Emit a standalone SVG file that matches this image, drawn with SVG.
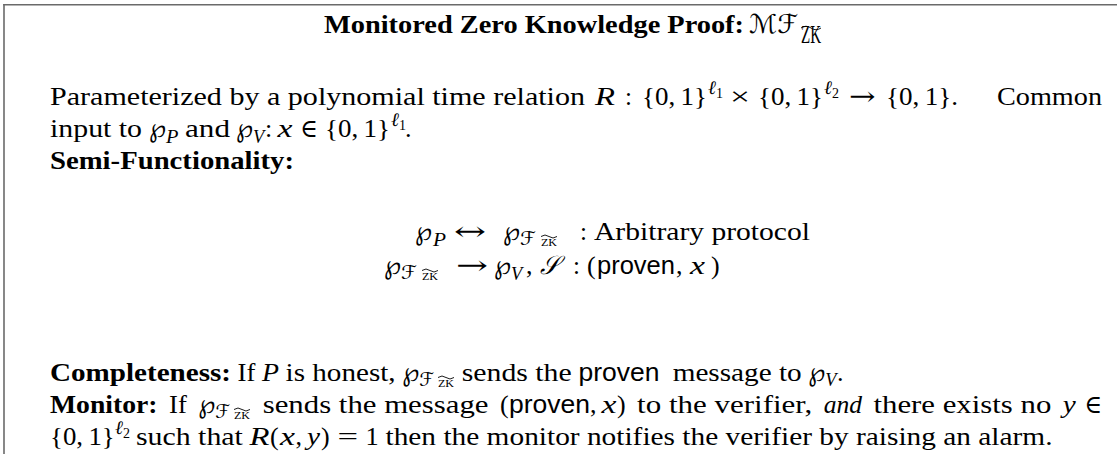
<svg xmlns="http://www.w3.org/2000/svg" width="1117" height="454" viewBox="0 0 1117 454">
<style>
text{font-family:"Liberation Serif","DejaVu Serif",serif;font-size:26px;fill:#000}
.b{font-weight:bold}
.it{font-style:italic}
.sf{font-family:"Liberation Sans","DejaVu Sans",sans-serif}
.sc{font-family:"DejaVu Serif","DejaVu Sans",serif;font-style:italic}
.dj{font-family:"DejaVu Serif","DejaVu Sans",serif}
.s19{font-size:19px}
.s14{font-size:14px}
.s11{font-size:11px}
.tl{fill:none;stroke:#000;stroke-width:0.9}
</style>
<g id="frame" stroke="#6a6a6a" stroke-width="1.6">
<line x1="3.2" y1="4.8" x2="1117" y2="4.8"/>
<line x1="4" y1="4" x2="4" y2="454"/>
</g>
<g id="title">
<text x="324" y="33" class="b" textLength="420" lengthAdjust="spacingAndGlyphs">Monitored Zero Knowledge Proof:</text>
<text x="749" y="33" class="sc" textLength="49" lengthAdjust="spacingAndGlyphs">ℳℱ</text>
<text x="801" y="43" font-size="15px" textLength="20" lengthAdjust="spacingAndGlyphs">ZK</text>
<path class="tl" d="M801 28 q5 -3.5 10 0 t10 0"/>
</g>
<g id="line1">
<text x="50" y="105" textLength="535" lengthAdjust="spacingAndGlyphs">Parameterized by a polynomial time relation</text>
<text x="595" y="105" class="it" textLength="20" lengthAdjust="spacingAndGlyphs">R</text>
<text x="625" y="105" textLength="7" lengthAdjust="spacingAndGlyphs">:</text>
<text x="642" y="105" textLength="65" lengthAdjust="spacingAndGlyphs">{0,&#8201;1}</text>
<text x="708" y="94" class="it s19">ℓ</text><text x="716" y="98" class="s14">1</text>
<text x="730" y="105" textLength="20" lengthAdjust="spacingAndGlyphs">×</text>
<text x="758" y="105" textLength="65" lengthAdjust="spacingAndGlyphs">{0,&#8201;1}</text>
<text x="824" y="94" class="it s19">ℓ</text><text x="832" y="98" class="s14">2</text>
<text x="849" y="105" class="dj" textLength="26.5" lengthAdjust="spacingAndGlyphs">→</text>
<text x="886" y="105" textLength="72" lengthAdjust="spacingAndGlyphs">{0,&#8201;1}.</text>
<text x="997" y="105" textLength="105" lengthAdjust="spacingAndGlyphs">Common</text>
</g>
<g id="line2">
<text x="50" y="137" textLength="92" lengthAdjust="spacingAndGlyphs">input to</text>
<text x="149" y="137" class="dj" textLength="17" lengthAdjust="spacingAndGlyphs">℘</text>
<text x="166" y="143" class="it s19" textLength="12.4" lengthAdjust="spacingAndGlyphs">P</text>
<text x="185" y="137" textLength="45" lengthAdjust="spacingAndGlyphs">and</text>
<text x="236" y="137" class="dj" textLength="17" lengthAdjust="spacingAndGlyphs">℘</text>
<text x="253" y="143" class="it s19" textLength="11.2" lengthAdjust="spacingAndGlyphs">V</text>
<text x="265" y="137">:</text>
<text x="277.5" y="137" class="it" textLength="15" lengthAdjust="spacingAndGlyphs">x</text>
<text x="300" y="137" textLength="17.7" lengthAdjust="spacingAndGlyphs">∈</text>
<text x="325" y="137" textLength="65" lengthAdjust="spacingAndGlyphs">{0,&#8201;1}</text>
<text x="391" y="126" class="it s19">ℓ</text><text x="399" y="130" class="s14">1</text>
<text x="405" y="137">.</text>
</g>
<g id="line3">
<text x="50" y="169" class="b" textLength="244" lengthAdjust="spacingAndGlyphs">Semi-Functionality:</text>
</g>
<g id="formula1">
<text x="415" y="240" class="dj" textLength="17" lengthAdjust="spacingAndGlyphs">℘</text>
<text x="433" y="246" class="it s19" textLength="13" lengthAdjust="spacingAndGlyphs">P</text>
<text x="454" y="240" class="dj" textLength="32" lengthAdjust="spacingAndGlyphs">↔</text>
<text x="503" y="240" class="dj" textLength="17" lengthAdjust="spacingAndGlyphs">℘</text>
<text x="520" y="245" class="sc s19" textLength="16" lengthAdjust="spacingAndGlyphs">ℱ</text>
<text x="541" y="246" class="s11" textLength="16" lengthAdjust="spacingAndGlyphs">ZK</text>
<path class="tl" d="M541 236.5 q4 -3 8 0 t8 0"/>
<text x="580" y="240" textLength="7" lengthAdjust="spacingAndGlyphs">:</text>
<text x="594" y="240" textLength="216" lengthAdjust="spacingAndGlyphs">Arbitrary protocol</text>
</g>
<g id="formula2">
<text x="384" y="274" class="dj" textLength="17" lengthAdjust="spacingAndGlyphs">℘</text>
<text x="401" y="279" class="sc s19" textLength="16" lengthAdjust="spacingAndGlyphs">ℱ</text>
<text x="422" y="280" class="s11" textLength="16" lengthAdjust="spacingAndGlyphs">ZK</text>
<path class="tl" d="M422 270.5 q4 -3 8 0 t8 0"/>
<text x="456" y="274" class="dj" textLength="32" lengthAdjust="spacingAndGlyphs">→</text>
<text x="494" y="274" class="dj" textLength="17" lengthAdjust="spacingAndGlyphs">℘</text>
<text x="511" y="280" class="it s19" textLength="11.2" lengthAdjust="spacingAndGlyphs">V</text>
<text x="526" y="274">,</text>
<text x="540" y="274" class="sc" textLength="19" lengthAdjust="spacingAndGlyphs">𝒮</text>
<text x="573" y="274" textLength="7" lengthAdjust="spacingAndGlyphs">:</text>
<text x="587" y="274">(</text>
<text x="597" y="274" class="sf" textLength="78" lengthAdjust="spacingAndGlyphs">proven</text>
<text x="676" y="274">,</text>
<text x="690" y="274" class="it" textLength="15" lengthAdjust="spacingAndGlyphs">x</text>
<text x="711" y="274">)</text>
</g>
<g id="completeness">
<text x="50" y="381" class="b" textLength="181" lengthAdjust="spacingAndGlyphs">Completeness:</text>
<text x="237.6" y="381" textLength="17.8" lengthAdjust="spacingAndGlyphs">If</text>
<text x="262" y="381" class="it" textLength="17" lengthAdjust="spacingAndGlyphs">P</text>
<text x="285.6" y="381" textLength="110" lengthAdjust="spacingAndGlyphs">is honest,</text>
<text x="402.2" y="381" class="dj" textLength="17" lengthAdjust="spacingAndGlyphs">℘</text>
<text x="419.2" y="386" class="sc s19" textLength="15" lengthAdjust="spacingAndGlyphs">ℱ</text>
<text x="438" y="387" class="s11" textLength="16" lengthAdjust="spacingAndGlyphs">ZK</text>
<path class="tl" d="M438 377.5 q4 -3 8 0 t8 0"/>
<text x="461.7" y="381" textLength="110" lengthAdjust="spacingAndGlyphs">sends the</text>
<text x="578.5" y="381" class="sf" textLength="81" lengthAdjust="spacingAndGlyphs">proven</text>
<text x="672.7" y="381" textLength="129" lengthAdjust="spacingAndGlyphs">message to</text>
<text x="808.3" y="381" class="dj" textLength="17" lengthAdjust="spacingAndGlyphs">℘</text>
<text x="825.2" y="386" class="it s19" textLength="11.2" lengthAdjust="spacingAndGlyphs">V</text>
<text x="837" y="381">.</text>
</g>
<g id="monitor">
<text x="50" y="413" class="b" textLength="107.5" lengthAdjust="spacingAndGlyphs">Monitor:</text>
<text x="169" y="413" textLength="17.8" lengthAdjust="spacingAndGlyphs">If</text>
<text x="198.3" y="413" class="dj" textLength="17" lengthAdjust="spacingAndGlyphs">℘</text>
<text x="215.3" y="418" class="sc s19" textLength="15" lengthAdjust="spacingAndGlyphs">ℱ</text>
<text x="234" y="419" class="s11" textLength="16" lengthAdjust="spacingAndGlyphs">ZK</text>
<path class="tl" d="M234 409.5 q4 -3 8 0 t8 0"/>
<text x="262.7" y="413" textLength="225.8" lengthAdjust="spacingAndGlyphs">sends the message</text>
<text x="500" y="413">(</text>
<text x="509" y="413" class="sf" textLength="81" lengthAdjust="spacingAndGlyphs">proven</text>
<text x="590" y="413">,</text>
<text x="601.6" y="413" class="it" textLength="15" lengthAdjust="spacingAndGlyphs">x</text>
<text x="617" y="413">)</text>
<text x="637.1" y="413" textLength="175.1" lengthAdjust="spacingAndGlyphs">to the verifier,</text>
<text x="823.7" y="413" class="it" textLength="38.3" lengthAdjust="spacingAndGlyphs">and</text>
<text x="873.5" y="413" textLength="177.8" lengthAdjust="spacingAndGlyphs">there exists no</text>
<text x="1062.8" y="413" class="it" textLength="13" lengthAdjust="spacingAndGlyphs">y</text>
<text x="1084.3" y="413" textLength="17.7" lengthAdjust="spacingAndGlyphs">∈</text>
</g>
<g id="lastline">
<text x="50" y="445" textLength="64.7" lengthAdjust="spacingAndGlyphs">{0,&#8201;1}</text>
<text x="115" y="434" class="it s19">ℓ</text><text x="123" y="438" class="s14">2</text>
<text x="135.9" y="445" textLength="107" lengthAdjust="spacingAndGlyphs">such that</text>
<text x="249.5" y="445" class="it" textLength="20" lengthAdjust="spacingAndGlyphs">R</text>
<text x="270" y="445">(</text>
<text x="280" y="445" class="it" textLength="15" lengthAdjust="spacingAndGlyphs">x</text>
<text x="295.5" y="445">,</text>
<text x="307" y="445" class="it" textLength="13" lengthAdjust="spacingAndGlyphs">y</text>
<text x="321" y="445">)</text>
<text x="337.6" y="445" textLength="20.6" lengthAdjust="spacingAndGlyphs">=</text>
<text x="365.6" y="445" textLength="13.2" lengthAdjust="spacingAndGlyphs">1</text>
<text x="385.5" y="445" textLength="667" lengthAdjust="spacingAndGlyphs">then the monitor notifies the verifier by raising an alarm.</text>
</g>
</svg>
